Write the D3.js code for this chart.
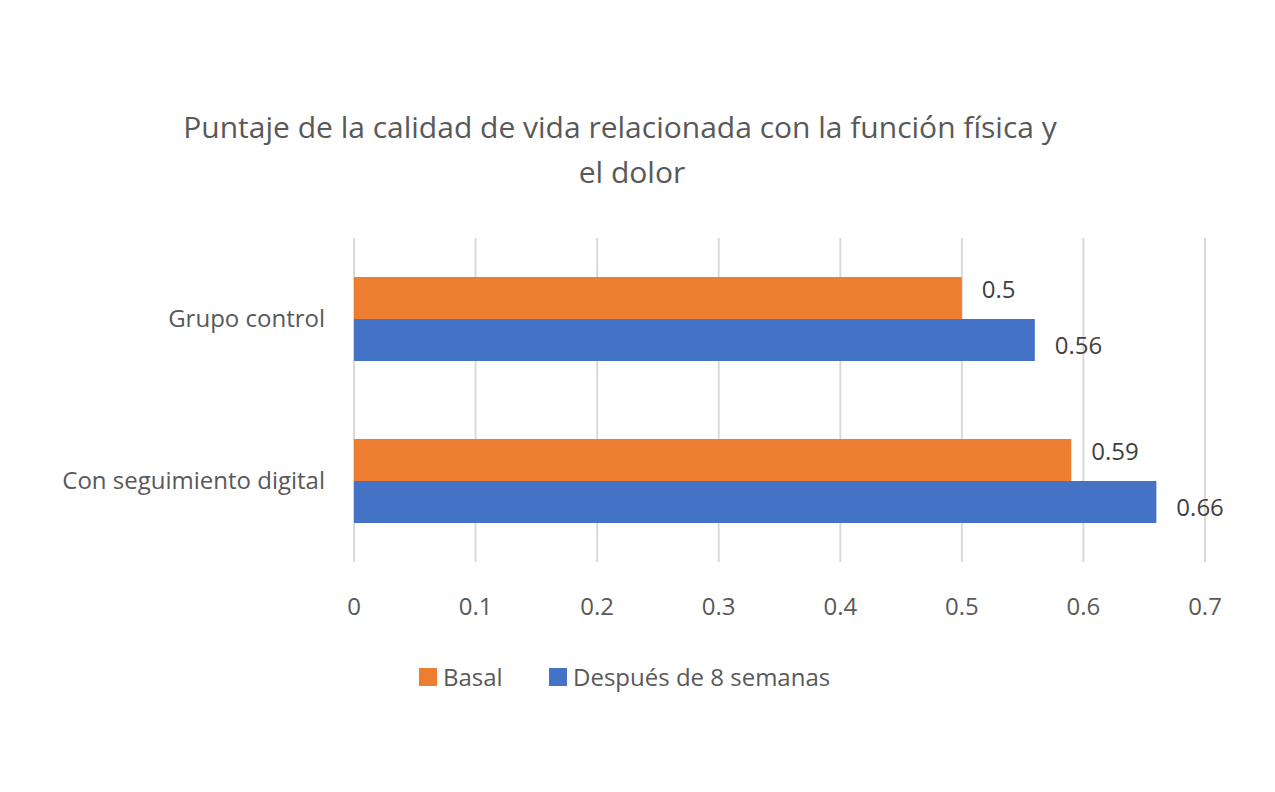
<!DOCTYPE html>
<html><head><meta charset="utf-8">
<script src="https://cdn.jsdelivr.net/npm/d3@7"></script>
<style>body{margin:0;background:#fff;font-family:"Open Sans","Noto Sans",sans-serif}</style>
</head><body><div id="chart"></div>
<script>
const categories = ["Grupo control", "Con seguimiento digital"];
const seriesNames = ["Basal", "Después de 8 semanas"];
const basal = [0.5, 0.59];
const despues = [0.56, 0.66];
const ticks = [0, 0.1, 0.2, 0.3, 0.4, 0.5, 0.6, 0.7];
const colors = ["#ED7D31", "#4472C4"];

const w = 1275, h = 792;
const svg = d3.select("#chart").append("svg").attr("width", w).attr("height", h);

const x = d3.scaleLinear().domain([0, 0.7]).range([354, 1205]);
const y = d3.scaleBand().domain(categories).range([238, 562]);
const barH = 42;

// title
svg.append("text").attr("x", 620).attr("y", 138).attr("text-anchor", "middle")
  .attr("font-size", 30).attr("fill", "#595959")
  .text("Puntaje de la calidad de vida relacionada con la función física y");
svg.append("text").attr("x", 632).attr("y", 183).attr("text-anchor", "middle")
  .attr("font-size", 30).attr("fill", "#595959").text("el dolor");

// grid
svg.append("g").selectAll("line").data(ticks).enter().append("line")
  .attr("x1", d => x(d)).attr("x2", d => x(d))
  .attr("y1", 238).attr("y2", 562)
  .attr("stroke", "#d9d9d9").attr("stroke-width", 2);

// x axis labels
svg.append("g").selectAll("text").data(ticks).enter().append("text")
  .attr("x", d => x(d)).attr("y", 615).attr("text-anchor", "middle")
  .attr("font-size", 24).attr("fill", "#595959").text(d => d);

// category labels
svg.append("g").selectAll("text").data(categories).enter().append("text")
  .attr("x", 325).attr("y", d => y(d) + y.bandwidth() / 2 + 8).attr("text-anchor", "end")
  .attr("font-size", 24).attr("fill", "#595959").text(d => d);

// bars
const series = [basal, despues];
series.forEach((vals, s) => {
  const g = svg.append("g");
  const yy = (d, i) => y(categories[i]) + y.bandwidth() / 2 - barH + s * barH;
  g.selectAll("rect").data(vals).enter().append("rect")
    .attr("x", x(0)).attr("y", yy)
    .attr("width", d => x(d) - x(0)).attr("height", barH)
    .attr("fill", colors[s]);
  g.selectAll("text").data(vals).enter().append("text")
    .attr("x", d => x(d) + (s === 0 ? 20 : 20)).attr("y", (d, i) => yy(d, i) + barH / 2 + (s === 0 ? 0 : 14))
    .attr("font-size", 24).attr("fill", "#404040").text(d => d);
});

// legend
const leg = svg.append("g");
const lx = [419, 549];
seriesNames.forEach((n, i) => {
  leg.append("rect").attr("x", lx[i]).attr("y", 668).attr("width", 18).attr("height", 18).attr("fill", colors[i]);
  leg.append("text").attr("x", lx[i] + 24).attr("y", 686).attr("font-size", 24).attr("fill", "#595959").text(n);
});
</script></body></html>
